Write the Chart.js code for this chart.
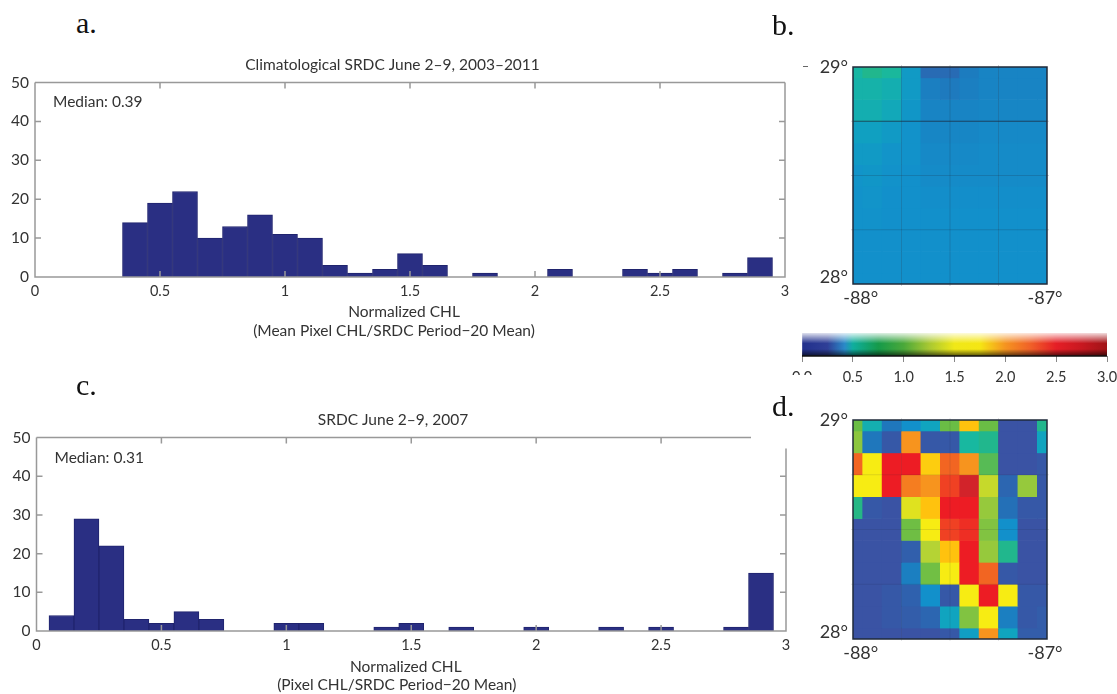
<!DOCTYPE html>
<html>
<head>
<meta charset="utf-8">
<script src="https://cdn.jsdelivr.net/npm/chart.js@4"></script>
<style>
    html, body { margin: 0; background: #fff; }
    #page { position: relative; width: 1117px; height: 694px; overflow: hidden; }
    canvas { position: absolute; }
    .panel { position: absolute; font: 30px "Liberation Serif", serif; color: #111; line-height: 1; }
    .cut { position: absolute; left: 790px; top: 375px; width: 30px; height: 12px; background: #fff; }
    .dash { position: absolute; left: 803px; top: 66px; width: 5px; height: 1px; background: #666; }
</style>
</head>
<body>
<div id="page">
    <canvas id="histA" style="left:0;top:45px"></canvas>
    <canvas id="histC" style="left:0;top:400px"></canvas>
    <canvas id="mapB" style="left:800px;top:50px"></canvas>
    <canvas id="mapD" style="left:800px;top:400px"></canvas>
    <canvas id="colorBar" style="left:790px;top:325px"></canvas>
    <div class="cut"></div>
    <div class="dash"></div>
    <div class="panel" style="left:76px;top:8px">a.</div>
    <div class="panel" style="left:772px;top:10px">b.</div>
    <div class="panel" style="left:76px;top:370px">c.</div>
    <div class="panel" style="left:772px;top:391px">d.</div>
</div>
<script>
const binCenters = [0.1, 0.2, 0.3, 0.4, 0.5, 0.6, 0.7, 0.8, 0.9, 1.0, 1.1, 1.2, 1.3, 1.4, 1.5,
    1.6, 1.7, 1.8, 1.9, 2.0, 2.1, 2.2, 2.3, 2.4, 2.5, 2.6, 2.7, 2.8, 2.9];
const countsA = [0, 0, 0, 14, 19, 22, 10, 13, 16, 11, 10, 3, 1, 2, 6,
    3, 0, 1, 0, 0, 2, 0, 0, 2, 1, 2, 0, 1, 5];
const countsC = [4, 29, 22, 3, 2, 5, 3, 0, 0, 2, 2, 0, 0, 1, 2,
    0, 1, 0, 0, 1, 0, 0, 1, 0, 1, 0, 0, 1, 15];

const lons = [-88, -87.9, -87.8, -87.7, -87.6, -87.5, -87.4, -87.3, -87.2, -87.1, -87];
const lats = [29, 28.9, 28.8, 28.7, 28.6, 28.5, 28.4, 28.3, 28.2, 28.1, 28];

// Normalized CHL per cell, one row per latitude (north first)
const chlB = [
    [.64, .70, .66, .50, .30, .30, .37, .40, .40, .40, .40],
    [.62, .62, .60, .50, .38, .36, .38, .40, .40, .40, .40],
    [.60, .60, .57, .48, .40, .40, .40, .41, .41, .41, .41],
    [.53, .53, .50, .46, .41, .41, .41, .42, .42, .42, .42],
    [.50, .50, .47, .46, .42, .42, .42, .43, .43, .43, .43],
    [.47, .48, .46, .45, .43, .43, .43, .43, .43, .43, .43],
    [.46, .47, .45, .45, .44, .44, .44, .44, .44, .44, .44],
    [.46, .46, .45, .45, .45, .45, .45, .45, .45, .45, .45],
    [.45, .45, .45, .45, .45, .45, .45, .45, .45, .45, .45],
    [.45, .45, .45, .45, .45, .45, .45, .45, .45, .45, .45],
    [.45, .45, .45, .45, .45, .45, .45, .45, .45, .45, .45]
];
const chlD = [
    [.85, .60, .35, .45, .55, .85, 1.8, .85, .20, .20, .70],
    [1.0, .35, .22, 2.0, .22, .22, .65, .70, .20, .20, .55],
    [2.2, 1.6, 2.4, 2.4, 1.75, 2.2, 2.0, .82, .20, .20, .22],
    [1.6, 1.6, 2.4, 2.1, 2.0, 2.3, 2.7, 1.3, .28, 1.05, .22],
    [.72, .22, .20, 1.45, 1.8, 2.4, 2.4, 1.05, .32, .22, .22],
    [.20, .20, .20, .87, 1.6, 2.3, 2.35, .95, .45, .20, .20],
    [.20, .20, .20, .25, 1.2, 1.8, 2.4, 1.05, .70, .20, .20],
    [.20, .20, .20, .38, .88, 1.6, 2.4, 2.2, .22, .20, .20],
    [.20, .20, .22, .26, .45, .22, 1.6, 2.4, 1.6, .22, .22],
    [.20, .20, .22, .24, .28, .55, .95, 1.6, .38, .22, .24],
    [.20, .20, .20, .20, .20, .22, .52, 2.0, .55, .24, .24]
];

const chlStops = [.20, .35, .45, .55, .65, .75, .85, 1.0, 1.2, 1.4, 1.6, 1.8, 2.0, 2.2, 2.4, 2.7];
const chlColors = ['#3a53a4', '#1f77bc', '#1290cb', '#10a4bf', '#18b8a0', '#2bb67a', '#6abd45', '#8cc63f',
    '#b5d334', '#d7df23', '#f7ec13', '#ffc20e', '#f7941e', '#f26522', '#ed1c24', '#d2232a'];

const barStops = [0, .25, .42, .5, .75, 1, 1.25, 1.5, 1.75, 2, 2.25, 2.5, 2.75, 3];
const barColors = ['#22308c', '#2f3f97', '#2a8ac8', '#0fae9e', '#159a4a', '#4aa83a', '#a8c832', '#f0e818',
    '#f5e614', '#f59420', '#f06028', '#e51e26', '#c81820', '#a01418'];

const labelFont = 'Lato, "Open Sans", sans-serif';
const textColor = '#333';

function hexRgb(hex) {
    return [1, 3, 5].map(i => parseInt(hex.slice(i, i + 2), 16));
}

function chlColor(v) {
    let i = chlStops.findIndex(s => s >= v);
    if (i <= 0) return i === 0 ? chlColors[0] : chlColors[chlColors.length - 1];
    const t = (v - chlStops[i - 1]) / (chlStops[i] - chlStops[i - 1]);
    const a = hexRgb(chlColors[i - 1]);
    const b = hexRgb(chlColors[i]);
    return 'rgb(' + a.map((c, k) => Math.round(c + (b[k] - c) * t)).join(',') + ')';
}

// inward ticks and box for the histograms, matlab style
function histFrame(o) {
    return {
        id: 'histFrame',
        afterDatasetsDraw(chart) {
            const { ctx, chartArea: a, scales: { x, y } } = chart;
            ctx.save();
            ctx.strokeStyle = '#999';
            ctx.lineWidth = 1.5;
            ctx.beginPath();
            ctx.moveTo(a.left, a.top);
            ctx.lineTo(x.getPixelForValue(o.topEnd), a.top);
            ctx.moveTo(a.right, y.getPixelForValue(o.rightStart));
            ctx.lineTo(a.right, a.bottom);
            ctx.lineTo(a.left, a.bottom);
            ctx.lineTo(a.left, a.top);
            [0.5, 1, 1.5, 2, 2.5].forEach(v => {
                const px = x.getPixelForValue(v);
                ctx.moveTo(px, a.top);
                ctx.lineTo(px, a.top + 6);
                ctx.moveTo(px, a.bottom);
                ctx.lineTo(px, a.bottom - 6);
            });
            [10, 20, 30, 40].forEach(v => {
                const py = y.getPixelForValue(v);
                ctx.moveTo(a.left, py);
                ctx.lineTo(a.left + 6, py);
                ctx.moveTo(a.right, py);
                ctx.lineTo(a.right - 6, py);
            });
            ctx.stroke();

            ctx.fillStyle = textColor;
            ctx.font = '15.5px ' + labelFont;
            ctx.textBaseline = 'middle';
            ctx.textAlign = 'left';
            ctx.fillText(o.median, x.getPixelForValue(0.072), y.getPixelForValue(o.medianY));
            ctx.textAlign = 'center';
            o.axisLines.forEach(l => ctx.fillText(l.text, x.getPixelForValue(l.x), a.bottom + l.dy));
            ctx.restore();
        }
    };
}

function renderHist(canvasId, counts, o) {
    const canvas = document.getElementById(canvasId);
    canvas.width = o.width;
    canvas.height = o.height;
    canvas.style.width = o.width + 'px';
    canvas.style.height = o.height + 'px';
    return new Chart(canvas, {
        type: 'bar',
        data: {
            datasets: [{
                data: binCenters.map((c, i) => ({ x: c, y: counts[i] })),
                backgroundColor: '#2a2f83',
                borderColor: '#20246e',
                borderWidth: 1,
                barPercentage: 1,
                categoryPercentage: 1
            }]
        },
        options: {
            responsive: false,
            animation: false,
            layout: { padding: { right: o.padRight } },
            plugins: {
                legend: { display: false },
                tooltip: { enabled: false },
                title: {
                    display: true,
                    text: o.title,
                    color: textColor,
                    font: { family: labelFont, size: 15.5, weight: 'normal' },
                    padding: o.titlePad
                }
            },
            scales: {
                x: {
                    type: 'linear', min: 0, max: 3, offset: false,
                    grid: { display: false, drawTicks: false }, border: { display: false },
                    ticks: {
                        stepSize: 0.5, maxRotation: 0, color: textColor, padding: 6,
                        font: { family: labelFont, size: 14.5 },
                        callback: v => String(v)
                    },
                    afterFit: s => {
                        s.height = o.height - o.bottom;
                        s.paddingRight = 0;
                    }
                },
                y: {
                    min: 0, max: 50,
                    grid: { display: false, drawTicks: false }, border: { display: false },
                    ticks: {
                        stepSize: 10, color: textColor, padding: 6,
                        font: { family: labelFont, size: 15.5 }
                    },
                    afterFit: s => { s.width = o.left; }
                }
            }
        },
        plugins: [histFrame(o)]
    });
}

const mapGridLons = [-87.75, -87.5, -87.25];
const mapGridLats = [28.75, 28.5, 28.25];

function mapFrame(o) {
    return {
        id: 'mapFrame',
        afterDatasetsDraw(chart) {
            const { ctx, chartArea: a, scales: { x, y } } = chart;
            ctx.save();
            ctx.strokeStyle = 'rgba(30, 40, 60, ' + o.gridAlpha + ')';
            ctx.lineWidth = 1;
            ctx.beginPath();
            mapGridLons.forEach(v => {
                const px = x.getPixelForValue(v);
                ctx.moveTo(px, a.top - 2);
                ctx.lineTo(px, a.bottom + 2);
            });
            mapGridLats.forEach(v => {
                const py = y.getPixelForValue(v);
                ctx.moveTo(a.left - 2, py);
                ctx.lineTo(a.right + 2, py);
            });
            ctx.stroke();
            if (o.darkLat) {
                const py = y.getPixelForValue(o.darkLat);
                ctx.strokeStyle = 'rgba(30, 40, 60, 0.6)';
                ctx.beginPath();
                ctx.moveTo(a.left, py);
                ctx.lineTo(a.right, py);
                ctx.stroke();
            }
            ctx.strokeStyle = '#1f2a3a';
            ctx.lineWidth = 1.5;
            ctx.strokeRect(a.left, a.top, a.right - a.left, a.bottom - a.top);
            ctx.restore();
        }
    };
}

function renderMap(canvasId, grid, o) {
    const canvas = document.getElementById(canvasId);
    canvas.width = 317;
    canvas.height = o.height;
    canvas.style.width = '317px';
    canvas.style.height = o.height + 'px';
    const datasets = lats.map((lat, r) => ({
        grouped: false,
        data: lons.map(lon => ({ x: lon, y: [lat - 0.05, lat + 0.05] })),
        backgroundColor: grid[r].map(chlColor),
        borderWidth: 0,
        barPercentage: 1,
        categoryPercentage: 1
    }));
    return new Chart(canvas, {
        type: 'bar',
        data: { datasets },
        options: {
            responsive: false,
            animation: false,
            layout: { padding: { top: o.top, right: 70 } },
            plugins: { legend: { display: false }, tooltip: { enabled: false } },
            scales: {
                x: {
                    type: 'linear', min: -88, max: -87, offset: false,
                    grid: { display: false, drawTicks: false }, border: { display: false },
                    afterBuildTicks: s => { s.ticks = [{ value: -87.96 }, { value: -87.01 }]; },
                    ticks: {
                        maxRotation: 0, autoSkip: false, color: textColor, padding: 3,
                        font: { family: labelFont, size: 18 },
                        callback: v => Math.round(v) + '°'
                    },
                    afterFit: s => { s.height = 28; }
                },
                y: {
                    min: 28, max: 29,
                    grid: { display: false, drawTicks: false }, border: { display: false },
                    afterBuildTicks: s => { s.ticks = [{ value: 28.03 }, { value: 29 }]; },
                    ticks: {
                        autoSkip: false, color: textColor, padding: 5,
                        font: { family: labelFont, size: 18 },
                        callback: v => Math.round(v) + '°'
                    },
                    afterFit: s => { s.width = 53; }
                }
            }
        },
        plugins: [mapFrame(o)]
    });
}

function renderColorBar(canvasId) {
    const canvas = document.getElementById(canvasId);
    canvas.width = 327;
    canvas.height = 60;
    canvas.style.width = '327px';
    canvas.style.height = '60px';
    const shade = {
        id: 'shade',
        afterDatasetsDraw(chart) {
            const { ctx, chartArea: a } = chart;
            const g = ctx.createLinearGradient(0, a.top, 0, a.bottom);
            g.addColorStop(0, 'rgba(255,255,255,0.85)');
            g.addColorStop(0.45, 'rgba(255,255,255,0)');
            g.addColorStop(0.7, 'rgba(0,0,0,0)');
            g.addColorStop(1, 'rgba(0,0,0,0.65)');
            ctx.save();
            ctx.fillStyle = g;
            ctx.fillRect(a.left, a.top, a.right - a.left, a.bottom - a.top);
            ctx.strokeStyle = '#111';
            ctx.lineWidth = 1.5;
            ctx.beginPath();
            ctx.moveTo(a.left, a.bottom);
            ctx.lineTo(a.right, a.bottom);
            ctx.stroke();
            ctx.restore();
        }
    };
    return new Chart(canvas, {
        type: 'bar',
        data: {
            labels: ['CHL'],
            datasets: [{
                data: [[barStops[0], barStops[barStops.length - 1]]],
                backgroundColor: ctx => {
                    const a = ctx.chart.chartArea;
                    if (!a) return barColors[0];
                    const g = ctx.chart.ctx.createLinearGradient(a.left, 0, a.right, 0);
                    barStops.forEach((s, i) => g.addColorStop(s / 3, barColors[i]));
                    return g;
                },
                barPercentage: 1,
                categoryPercentage: 1
            }]
        },
        options: {
            indexAxis: 'y',
            responsive: false,
            animation: false,
            layout: { padding: { left: 12, right: 10, top: 8 } },
            plugins: { legend: { display: false }, tooltip: { enabled: false } },
            scales: {
                x: {
                    type: 'linear', min: 0, max: 3, offset: false,
                    grid: { drawOnChartArea: false, tickLength: 6, color: '#888', offset: false },
                    border: { display: false },
                    ticks: {
                        stepSize: 0.5, maxRotation: 0, color: textColor, padding: 7,
                        font: { family: labelFont, size: 14.5 },
                        callback: v => v.toFixed(1)
                    },
                    afterFit: s => {
                        s.height = 29;
                        s.paddingLeft = 0;
                        s.paddingRight = 0;
                    }
                },
                y: { display: false }
            }
        },
        plugins: [shade]
    });
}

renderHist('histA', countsA, {
    title: 'Climatological SRDC June 2–9, 2003–2011',
    width: 790, height: 295, left: 35, bottom: 232, padRight: 5,
    titlePad: { top: 11, bottom: 8 },
    topEnd: 3, rightStart: 50,
    median: 'Median: 0.39', medianY: 45,
    axisLines: [
        { text: 'Normalized CHL', x: 1.476, dy: 35 },
        { text: '(Mean Pixel CHL/SRDC Period−20 Mean)', x: 1.436, dy: 54 }
    ]
});
renderHist('histC', countsC, {
    title: 'SRDC June 2–9, 2007',
    width: 800, height: 294, left: 36.5, bottom: 231, padRight: 14,
    titlePad: { top: 11, bottom: 8 },
    topEnd: 2.86, rightStart: 47.2,
    median: 'Median: 0.31', medianY: 44.6,
    axisLines: [
        { text: 'Normalized CHL', x: 1.478, dy: 36 },
        { text: '(Pixel CHL/SRDC Period−20 Mean)', x: 1.442, dy: 54 }
    ]
});
renderMap('mapB', chlB, { height: 262, top: 17, gridAlpha: 0.2, darkLat: 28.75 });
renderMap('mapD', chlD, { height: 267, top: 20, gridAlpha: 0.12 });
renderColorBar('colorBar');
</script>
</body>
</html>
